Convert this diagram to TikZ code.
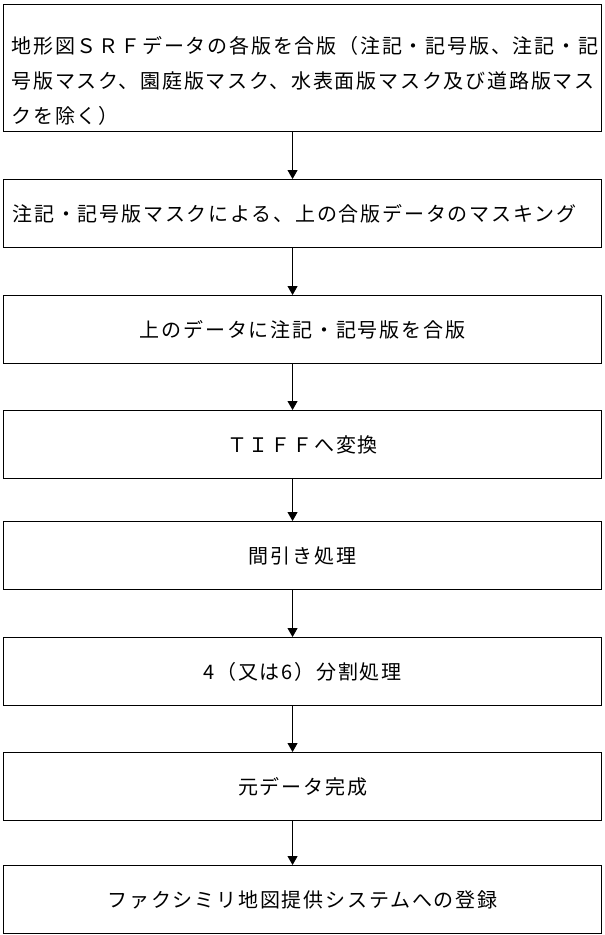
\documentclass[tikz,border=0pt]{standalone}
\usepackage{fontspec}
\newfontfamily\jp[LetterSpace=9]{Noto Sans CJK JP}
\usetikzlibrary{arrows.meta}
\begin{document}
\begin{tikzpicture}[x=1pt,y=1pt,
  box/.style={draw, line width=1.1pt, inner sep=0pt, anchor=north west,
    font=\jp\fontsize{20}{35}\selectfont},
  stepbox/.style={box, minimum height=68pt, text width=580pt, inner xsep=9pt},
  arr/.style={-{Triangle[length=9pt,width=10pt]}, line width=0.9pt}]
\useasboundingbox[fill=white] (0,0) rectangle (605,-935);
\node[box] (b1) at (3,-4) {\parbox[c][127pt][b]{598pt}{\leftskip=8pt
地形図ＳＲＦデータの各版を合版（注記・記号版、注記・記\\
号版マスク、園庭版マスク、水表面版マスク及び道路版マス\\
クを除く）\par\vspace{6pt}}};
\node[stepbox, align=left] (b2) at (3,-179) {注記・記号版マスクによる、上の合版データのマスキング};
\node[stepbox, align=center] (b3) at (3,-295) {上のデータに注記・記号版を合版};
\node[stepbox, align=center] (b4) at (3,-410) {ＴＩＦＦへ変換};
\node[stepbox, align=center] (b5) at (3,-521) {間引き処理};
\node[stepbox, align=center] (b6) at (3,-637) {4（又は6）分割処理};
\node[stepbox, align=center] (b7) at (3,-752) {元データ完成};
\node[stepbox, align=center] (b8) at (3,-865) {ファクシミリ地図提供システムへの登録};
\foreach \a/\b in {b1/b2,b2/b3,b3/b4,b4/b5,b5/b6,b6/b7,b7/b8}
  \draw[arr] ([xshift=-10pt]\a.south) -- ([xshift=-10pt]\b.north);
\end{tikzpicture}
\end{document}
